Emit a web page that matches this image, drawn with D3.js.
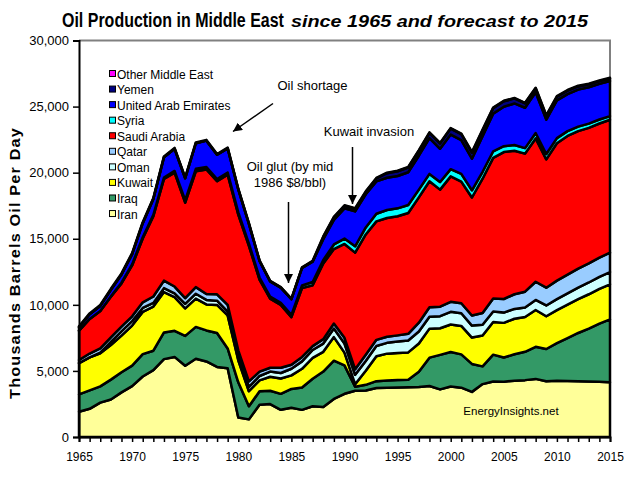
<!DOCTYPE html>
<html><head><meta charset="utf-8">
<script src="https://cdn.jsdelivr.net/npm/d3@7"></script>
<style>
html,body{margin:0;padding:0;background:#fff;}
text{font-family:"Liberation Sans",Arial,sans-serif;}
</style>
</head><body>
<svg id="chart" width="627" height="478"></svg>
<script>
const years = d3.range(1965, 2016);
const iran = [1908,2132,2603,2840,3375,3848,4576,5062,5891,6060,5387,5915,5716,5302,5200,1479,1334,2445,2489,2056,2207,2054,2328,2268,2880,3270,3500,3523,3712,3730,3744,3759,3776,3855,3603,3818,3730,3414,4002,4201,4184,4260,4303,4396,4216,4250,4230,4220,4200,4180,4150];
const iraq = [1313,1392,1228,1503,1522,1549,1694,1466,2018,1971,2262,2415,2348,2563,1500,2658,1000,1012,1005,1209,1433,1690,2079,2685,2897,2149,305,425,512,553,560,579,1155,2150,2610,2614,2523,2116,1344,2030,1833,1999,2143,2428,2442,2850,3250,3650,4000,4400,4750];
const kuwait = [2371,2502,2500,2614,2773,3036,3197,3339,3060,2546,2084,2145,1969,2131,2500,1664,1129,824,1064,1157,1023,1419,1585,1492,1783,964,190,1058,1881,2025,2057,2062,2137,2193,2016,2079,2148,1995,2329,2475,2618,2690,2636,2782,2481,2500,2530,2560,2600,2620,2650];
const oman = [0,0,57,241,327,332,294,282,293,290,342,366,340,315,295,285,330,335,390,418,502,560,593,624,648,685,710,750,785,817,868,897,909,905,911,959,961,904,824,786,778,742,715,761,813,830,850,870,890,910,930];
const qatar = [233,291,324,340,357,363,431,482,570,518,438,497,445,487,508,472,415,332,295,399,301,336,293,338,380,434,423,474,462,457,461,510,673,709,723,757,754,764,879,992,1028,1110,1197,1378,1345,1400,1420,1440,1450,1460,1470];
const saudi = [2219,2615,2825,3081,3262,3851,4821,6070,7693,8618,7216,8762,9419,8554,9841,10270,10256,6961,5225,4748,3601,5208,4599,5720,5635,7106,8820,9098,8962,8991,9014,9141,9482,9541,8853,9491,9209,8928,10164,10638,11114,10853,10449,10846,9713,10400,10500,10400,10250,10150,10050];
const syria = [0,0,0,20,58,83,106,113,108,128,186,190,188,172,167,164,167,160,163,168,172,197,250,270,345,407,482,526,578,600,596,604,583,553,579,548,581,548,527,495,450,435,415,406,401,385,365,345,320,300,280];
const uae = [282,360,382,497,627,779,1059,1203,1532,1679,1664,1936,1999,1831,1831,1745,1502,1250,1149,1146,1193,1330,1541,1565,1860,2283,2639,2510,2449,2441,2447,2477,2567,2712,2511,2620,2551,2390,2695,2847,2983,3149,3053,3088,2599,2850,2800,2800,2750,2700,2650];
const yemen = [0,0,0,0,0,0,0,0,0,0,0,0,0,0,0,0,0,0,0,0,0,0,20,175,185,193,195,180,220,345,360,362,375,390,409,450,455,457,448,420,416,380,341,305,298,280,260,240,220,210,200];
const other = [57,63,69,76,76,77,75,70,68,67,61,58,57,55,51,49,45,43,42,42,42,42,42,42,41,41,41,41,40,40,40,39,39,38,38,36,48,48,48,48,34,33,33,33,33,50,50,50,50,50,50];

const seriesNames = ["Iran","Iraq","Kuwait","Oman","Qatar","Saudi Arabia","Syria","United Arab Emirates","Yemen","Other Middle East"];
const seriesValues = [iran,iraq,kuwait,oman,qatar,saudi,syria,uae,yemen,other];
const seriesColors = ["#FFFF99","#339966","#FFFF00","#CCFFFF","#99CCFF","#FF0000","#00FFFF","#0000FF","#000080","#FF00FF"];
const yTicks = [0,5000,10000,15000,20000,25000,30000];
const xLabelYears = [1965,1970,1975,1980,1985,1990,1995,2000,2005,2010,2015];

const svg = d3.select("#chart");
const L = 79, R = 610, T = 40.5, B = 437;
const x = d3.scaleLinear().domain([1965, 2015]).range([L, R]);
const y = d3.scaleLinear().domain([0, 30000]).range([B, T]);

const table = years.map((yr, i) => {
  const row = {year: yr};
  seriesNames.forEach((n, k) => row[n] = seriesValues[k][i]);
  return row;
});
const stacked = d3.stack().keys(seriesNames)(table);

// plot border (grey)
svg.append("path")
  .attr("d", `M${L},${T}H${R}V${B}`)
  .attr("fill", "none").attr("stroke", "#808080").attr("stroke-width", 2);

const area = d3.area()
  .x(d => x(d.data.year))
  .y0(d => y(d[0]))
  .y1(d => y(d[1]));

svg.append("g").selectAll("path")
  .data(stacked).join("path")
  .attr("d", area)
  .attr("fill", (d, i) => seriesColors[i])
  .attr("stroke", "#000").attr("stroke-width", 2.5)
  .attr("stroke-linejoin", "round");

// y axis
const yAxis = svg.append("g").attr("transform", `translate(${L},0)`)
  .call(d3.axisLeft(y).tickValues(yTicks).tickFormat(d3.format(",")).tickSize(6).tickPadding(4));
yAxis.select(".domain").attr("stroke", "#000").attr("stroke-width", 2);
yAxis.selectAll(".tick line").attr("stroke", "#000").attr("stroke-width", 1.5);
yAxis.selectAll("text").attr("font-size", 13).attr("fill", "#000")
  .attr("font-family", "Liberation Sans, Arial, sans-serif");

// x axis
const xAxis = svg.append("g").attr("transform", `translate(0,${B})`)
  .call(d3.axisBottom(x).tickValues(years).tickSize(5).tickFormat(d => xLabelYears.includes(d) ? d : "").tickPadding(10));
xAxis.select(".domain").attr("stroke", "#000").attr("stroke-width", 2);
xAxis.selectAll(".tick line").attr("stroke", "#000").attr("stroke-width", 1.5);
xAxis.selectAll("text").attr("font-size", 12).attr("fill", "#000")
  .attr("font-family", "Liberation Sans, Arial, sans-serif");

// y axis title
svg.append("text")
  .attr("transform", "translate(20,263) rotate(-90) scale(1.16,1)")
  .attr("text-anchor", "middle")
  .attr("font-size", 14).attr("font-weight", "bold")
  .attr("letter-spacing", 1)
  .text("Thousands Barrels Oil Per Day");

// title (condensed main part, wide italic subtitle)
svg.append("text").attr("transform", "translate(62,27) scale(0.761,1)")
  .attr("font-weight", "bold").attr("font-size", 21)
  .text("Oil Production in Middle East");
svg.append("text").attr("transform", "translate(291,27) scale(1.2,1)")
  .attr("font-weight", "bold").attr("font-style", "italic").attr("font-size", 16.5)
  .text("since 1965  and forecast  to 2015");

// legend (reverse order)
const legendNames = seriesNames.slice().reverse();
const legendColors = seriesColors.slice().reverse();
const lg = svg.append("g");
legendNames.forEach((n, i) => {
  const cy = 74 + i * 15.56;
  lg.append("rect").attr("x", 109.5).attr("y", cy - 3.5).attr("width", 6).attr("height", 6)
    .attr("fill", legendColors[i]).attr("stroke", "#000").attr("stroke-width", 1);
  lg.append("text").attr("x", 117).attr("y", cy + 4.5).attr("font-size", 12).text(n);
});

// annotations
const defs = svg.append("defs");
defs.append("marker").attr("id", "arr").attr("viewBox", "0 0 10 10")
  .attr("refX", 10).attr("refY", 5).attr("markerWidth", 6).attr("markerHeight", 6)
  .attr("orient", "auto").attr("markerUnits", "strokeWidth")
  .append("path").attr("d", "M0,0L10,5L0,10z").attr("fill", "#000");

function note(lines, cx, y0, dy) {
  lines.forEach((t, i) => svg.append("text").attr("x", cx).attr("y", y0 + i * dy)
    .attr("text-anchor", "middle").attr("font-size", 13).text(t));
}
function arrow(x1, y1, x2, y2) {
  svg.append("line").attr("x1", x1).attr("y1", y1).attr("x2", x2).attr("y2", y2)
    .attr("stroke", "#000").attr("stroke-width", 1.5).attr("marker-end", "url(#arr)");
}
note(["Oil shortage"], 312.5, 90, 0);
arrow(273, 103.5, 233, 131.5);
note(["Oil glut (by mid", "1986 $8/bbl)"], 290, 171, 15.5);
arrow(288.5, 202, 288.5, 283);
note(["Kuwait invasion"], 369, 136, 0);
arrow(352.5, 147, 352.5, 204);

svg.append("text").attr("x", 511).attr("y", 415).attr("text-anchor", "middle")
  .attr("font-size", 11.5).text("EnergyInsights.net");
</script>
</body></html>
